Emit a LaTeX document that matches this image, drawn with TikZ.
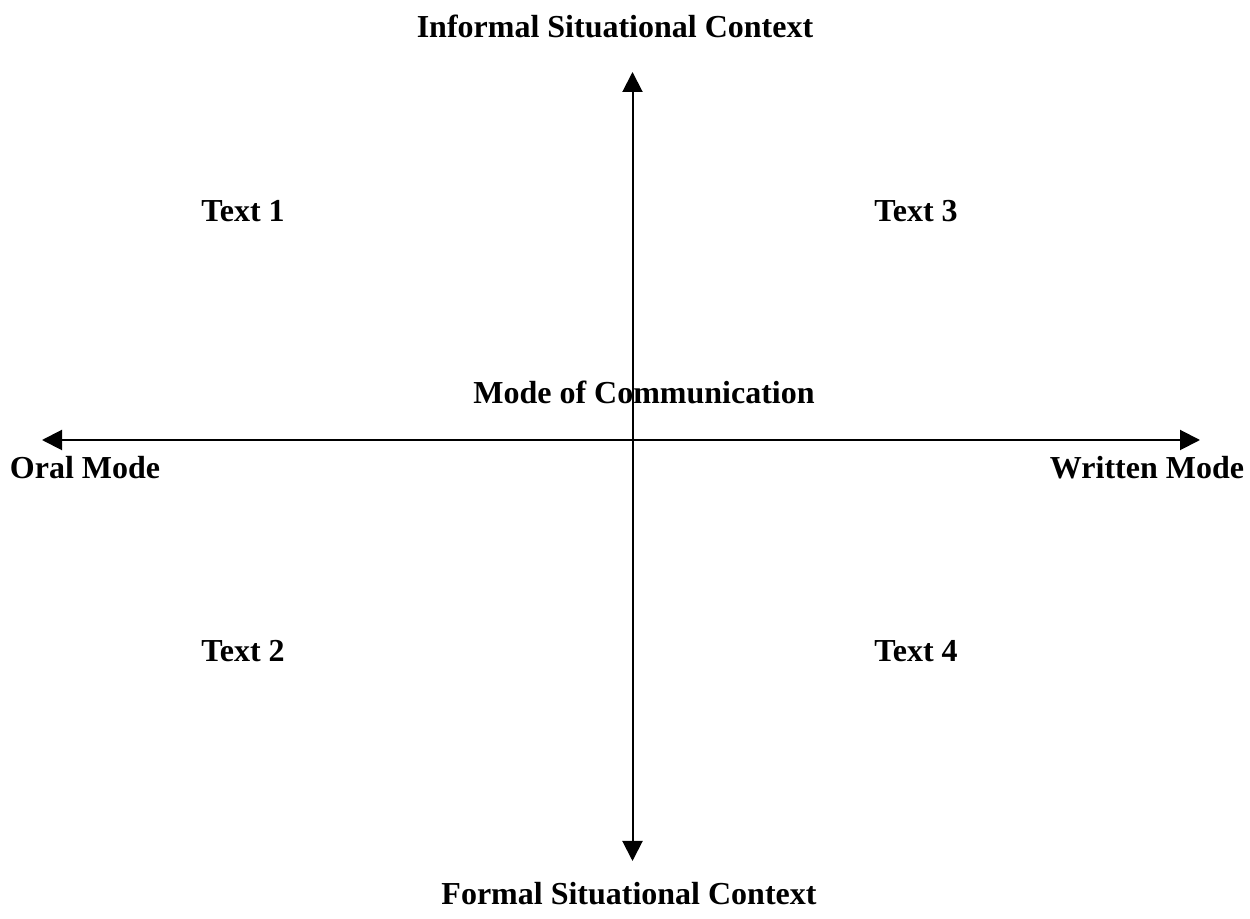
\documentclass[tikz,border=0pt]{standalone}
\usepackage{fontspec}
\setmainfont{Liberation Serif}
\usetikzlibrary{arrows.meta}
\begin{document}
\begin{tikzpicture}[x=0.5pt,y=-0.5pt,
  lbl/.style={font=\fontsize{16}{19}\selectfont\bfseries, inner sep=0pt, anchor=base},
  axis/.style={line width=1pt, {Triangle[length=10pt,width=10pt]}-{Triangle[length=10pt,width=10pt]}}]
\useasboundingbox (0,0) rectangle (1250,919);
\coordinate (top) at (632.5,72);
\coordinate (bot) at (632.5,861);
\coordinate (left) at (42,440);
\coordinate (right) at (1200,440);
\draw[axis] (bot) -- (top);
\draw[axis] (left) -- (right);
\node[lbl] (inf) at (615,38) {Informal Situational Context};
\node[lbl] (for) at (629,905) {Formal Situational Context};
\node[lbl] (moc) at (644,404) {Mode of Communication};
\node[lbl] (oral) at (85,479) {Oral Mode};
\node[lbl] (writ) at (1147,479) {Written Mode};
\node[lbl] (t1) at (243,222) {Text 1};
\node[lbl] (t3) at (916,222) {Text 3};
\node[lbl] (t2) at (243,662) {Text 2};
\node[lbl] (t4) at (916,662) {Text 4};
\end{tikzpicture}
\end{document}
